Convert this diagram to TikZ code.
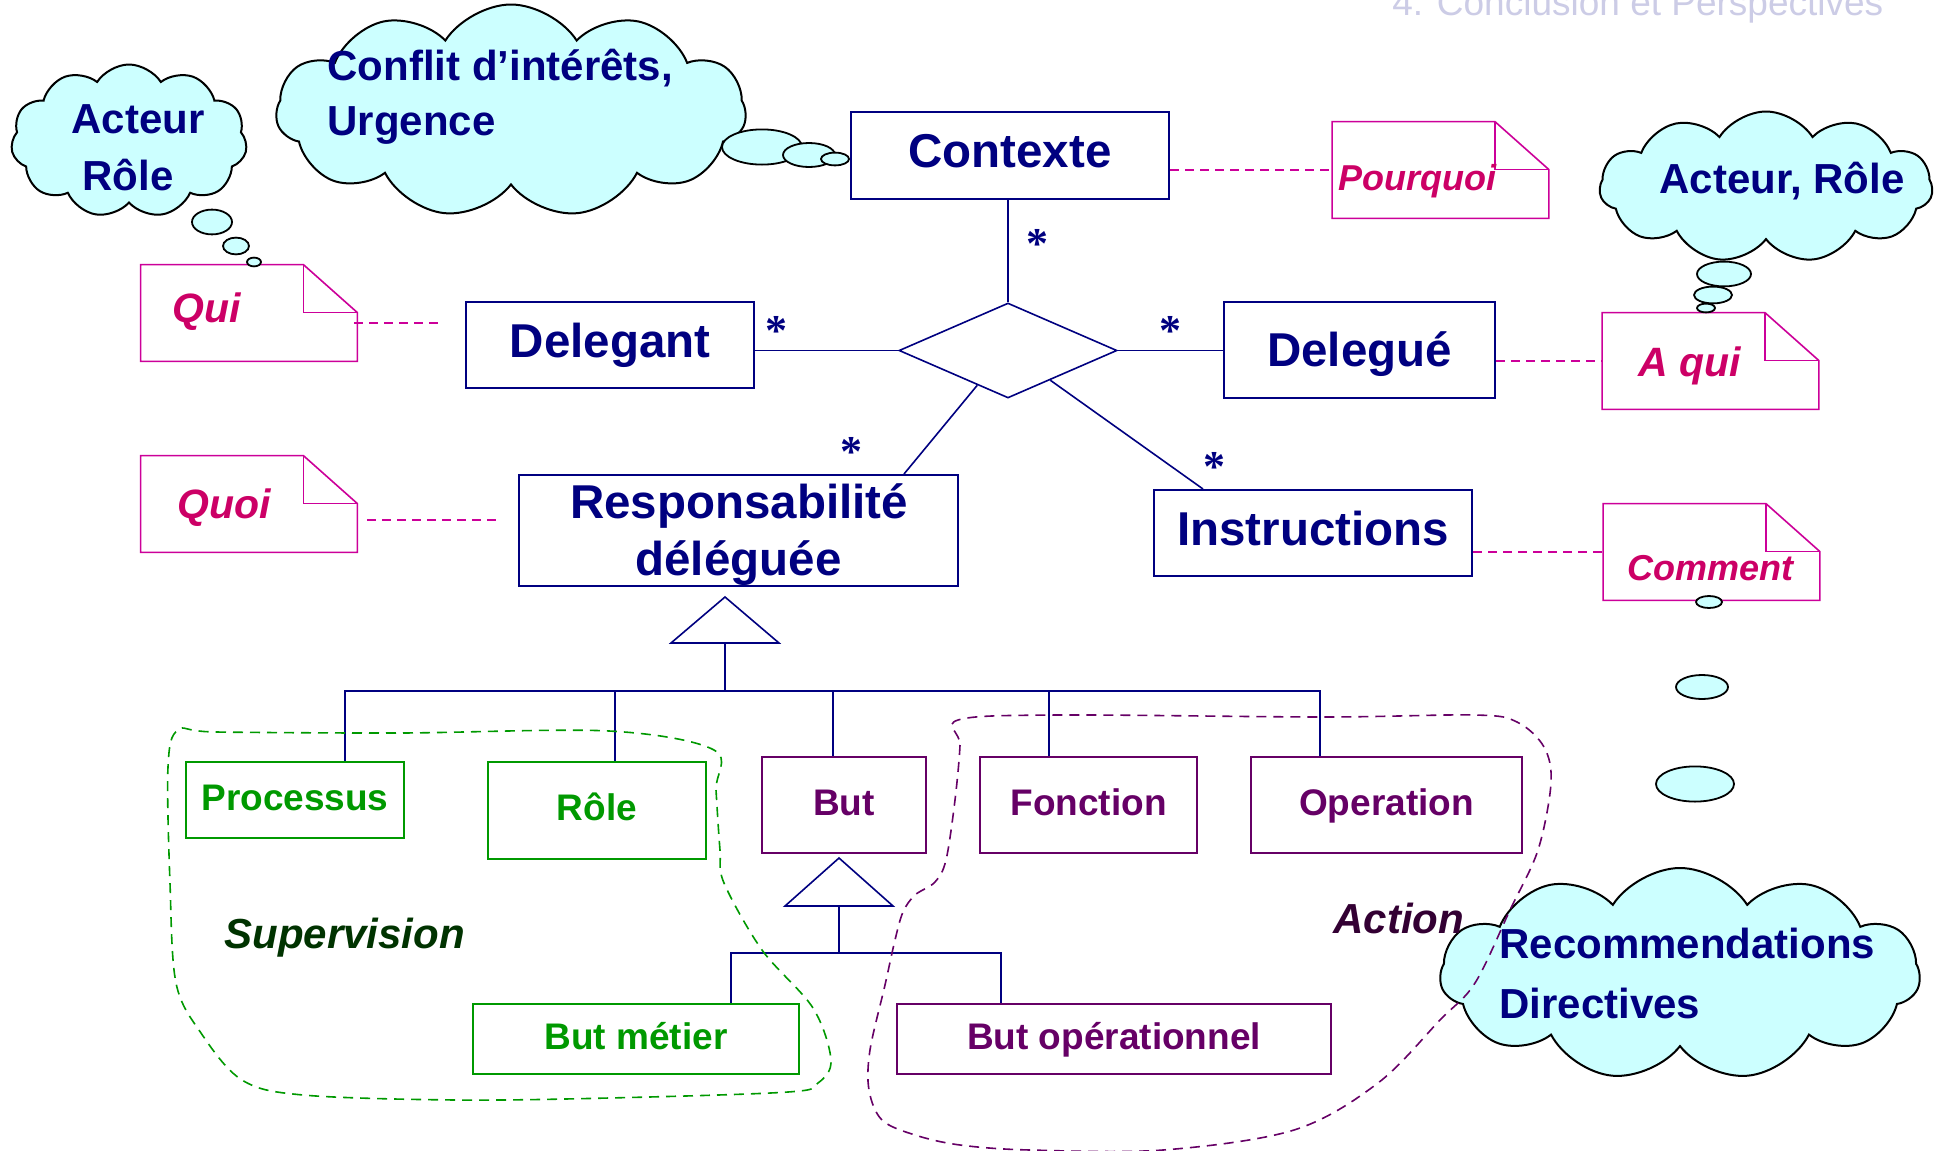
\documentclass[tikz,border=0pt]{standalone}
\usepackage{fontspec}
\setmainfont{Liberation Sans}
\newfontfamily\multfont{Liberation Serif}
\usetikzlibrary{shapes.geometric,shapes.symbols,calc}

\definecolor{umlnavy}{RGB}{0,0,128}
\definecolor{notemag}{RGB}{204,0,153}
\definecolor{notetxt}{RGB}{204,0,102}
\definecolor{supgreen}{RGB}{0,153,0}
\definecolor{actpurple}{RGB}{102,0,102}
\definecolor{supdark}{RGB}{0,51,0}
\definecolor{actdark}{RGB}{51,0,51}
\definecolor{thinkfill}{RGB}{204,255,255}
\definecolor{headgrey}{RGB}{204,204,230}

% outline of a UML note with its dog-eared corner
\newcommand\foldednote[1]{%
  \draw[noteline, fill=white] (#1.north west) -- ([xshift=-27pt]#1.north east)
    -- ([yshift=-24pt]#1.north east) -- (#1.south east) -- (#1.south west) -- cycle;
  \draw[noteline] ([xshift=-27pt]#1.north east) -- ([xshift=-27pt,yshift=-24pt]#1.north east)
    -- ([yshift=-24pt]#1.north east);}

\begin{document}
\begin{tikzpicture}[x=0.5pt,y=-0.5pt,
  classbox/.style={draw=umlnavy, line width=1pt, fill=white, text=umlnavy, inner sep=0pt,
    font=\fontsize{23.75pt}{28.5pt}\selectfont\bfseries},
  classline/.style={classbox, text height=18pt, text depth=6pt},
  titletext/.style={text=umlnavy, inner sep=0pt, anchor=base,
    font=\fontsize{23.75pt}{28.5pt}\selectfont\bfseries},
  subbox/.style={draw=#1, text=#1, line width=1pt, fill=white, inner sep=0pt,
    font=\fontsize{18.5pt}{22pt}\selectfont\bfseries, text height=14pt, text depth=3.6pt},
  assoc/.style={draw=umlnavy, line width=0.8pt},
  notebody/.style={minimum width=108pt, minimum height=48pt, inner sep=0pt},
  noteline/.style={draw=notemag, line width=0.8pt},
  notelink/.style={draw=notemag, line width=0.8pt, dash pattern=on 4.5pt off 3pt},
  notetext/.style={text=notetxt, inner sep=0pt, anchor=base west,
    font=\fontsize{#1}{#1}\selectfont\bfseries\itshape},
  thought/.style={cloud, cloud puffs=11, cloud puff arc=115, cloud ignores aspect,
    draw=black, line width=1pt, fill=thinkfill, inner sep=0pt},
  bubble/.style={draw=black, line width=0.9pt, fill=thinkfill},
  thoughttext/.style={text=umlnavy, inner sep=0pt, font=\fontsize{21pt}{21pt}\selectfont\bfseries},
  mult/.style={text=umlnavy, inner sep=0pt, anchor=north, font=\multfont\bfseries\fontsize{22pt}{22pt}\selectfont},
  grouptext/.style={text=#1, inner sep=0pt, anchor=base west,
    font=\fontsize{21pt}{21pt}\selectfont\bfseries\itshape},
  groupline/.style={draw=#1, line width=0.8pt, dash pattern=on 5pt off 3.5pt},
]
\useasboundingbox (0,0) rectangle (1939,1151);
\fill[white] (0,0) rectangle (1939,1151);

% section header
\node[anchor=base west, inner sep=0pt, text=headgrey,
  font=\fontsize{18.5pt}{20pt}\selectfont] (header) at (1392,15) {4. Conclusion et Perspectives};

% thought clouds
\node[thought, minimum width=118pt, minimum height=76.5pt] (cloudwho) at (129,141) {};
\node[thought, minimum width=235pt, minimum height=106.5pt] (cloudctx) at (511,111) {};
\node[thought, minimum width=166.5pt, minimum height=75.5pt] (cloudwhom) at (1766,187) {};
\node[thought, minimum width=240pt, minimum height=106pt] (cloudhow) at (1680,974) {};

\node[thoughttext, anchor=base] (whoA) at (138,133) {Acteur};
\node[thoughttext, anchor=base] (whoB) at (128,190) {Rôle};
\node[thoughttext, anchor=base west] (ctxA) at (327,80) {Conflit d’intérêts,};
\node[thoughttext, anchor=base west] (ctxB) at (327,135) {Urgence};
\node[thoughttext, anchor=base west] (whomA) at (1659,193) {Acteur, Rôle};
\node[thoughttext, anchor=base west] (howA) at (1499,958) {Recommendations};
\node[thoughttext, anchor=base west] (howB) at (1499,1018) {Directives};

% association
\node[classline, minimum width=159pt, minimum height=43.5pt] (contexte) at (1010,155.5) {Contexte};
\node[classline, minimum width=144pt, minimum height=43pt] (delegant) at (610,345) {Delegant};
\node[classline, text depth=1.5pt, minimum width=135.5pt, minimum height=48pt] (delegue) at (1359.5,350) {Delegué};
\node[classbox, minimum width=219.5pt, minimum height=55.5pt] (resp) at (738.5,530.5) {};
\node[titletext] (respA) at (739,518) {Responsabilité};
\node[titletext] (respB) at (738.5,575) {déléguée};
\node[classline, minimum width=159pt, minimum height=43pt] (instr) at (1313,533) {Instructions};
\node[diamond, draw=umlnavy, line width=0.8pt, fill=white, minimum width=109pt,
  minimum height=47.5pt, inner sep=0pt] (rel) at (1008,350.5) {};

\draw[assoc] (rel.north) -- (rel.north |- contexte.south);
\draw[assoc] (rel.west) -- (rel.west -| delegant.east);
\draw[assoc] (rel.east) -- (rel.east -| delegue.west);
\draw[assoc] ($(rel.west)!0.72!(rel.south)$) -- ([xshift=-27.5pt]resp.north east);
\draw[assoc] ($(rel.east)!0.615!(rel.south)$) -- ([xshift=25pt]instr.north west);

\node[mult] (m1) at (1037,229) {*};
\node[mult] (m2) at (776,316) {*};
\node[mult] (m3) at (1170,316) {*};
\node[mult] (m4) at (851,437) {*};
\node[mult] (m5) at (1214,452) {*};

% notes
\node[notebody] (pourquoi) at (1440.5,170) {};
\node[notebody] (qui) at (249,313) {};
\node[notebody] (quoi) at (249,504) {};
\node[notebody] (aqui) at (1710.5,361) {};
\node[notebody] (comment) at (1711.5,552) {};
\foldednote{pourquoi}
\foldednote{qui}
\foldednote{quoi}
\foldednote{aqui}
\foldednote{comment}
\node[notetext=18pt] (pourquoiT) at (1338,190) {Pourquoi};
\node[notetext=20.5pt] (quiT) at (172,322) {Qui};
\node[notetext=20.5pt] (quoiT) at (177,518) {Quoi};
\node[notetext=20.5pt] (aquiT) at (1638,376) {A qui};
\node[notetext=18pt] (commentT) at (1627,580) {Comment};

\draw[notelink] (contexte.east |- pourquoi.west) -- (pourquoi.west);
\draw[notelink, shorten <=-1.5pt, shorten >=11pt] ([yshift=-5pt]qui.east) -- ([yshift=-5pt]qui.east -| delegant.west);
\draw[notelink, shorten <=5pt, shorten >=8.5pt] ([yshift=-8pt]quoi.east) -- ([yshift=-8pt]quoi.east -| resp.west);
\draw[notelink] (delegue.east |- aqui.west) -- (aqui.west);
\draw[notelink] (instr.east |- comment.west) -- (comment.west);

% thought bubbles
\draw[bubble] (212,222) ellipse [x radius=10pt, y radius=6.2pt];
\draw[bubble] (236,246) ellipse [x radius=6.5pt, y radius=4.2pt];
\draw[bubble] (254,262) ellipse [x radius=3.5pt, y radius=2.2pt];
\draw[bubble] (762,147) ellipse [x radius=20pt, y radius=8.8pt];
\draw[bubble] (809,155) ellipse [x radius=13pt, y radius=6pt];
\draw[bubble] (835,159) ellipse [x radius=7pt, y radius=3.2pt];
\draw[bubble] (1724,274) ellipse [x radius=13.5pt, y radius=6.2pt];
\draw[bubble] (1713,295) ellipse [x radius=9.5pt, y radius=4.2pt];
\draw[bubble] (1706,308) ellipse [x radius=4.5pt, y radius=2.2pt];
\draw[bubble] (1709,602) ellipse [x radius=6.5pt, y radius=3pt];
\draw[bubble] (1702,687) ellipse [x radius=13pt, y radius=6pt];
\draw[bubble] (1695,784) ellipse [x radius=19.5pt, y radius=8.8pt];

% specialisations of the delegated responsibility
\node[subbox=supgreen, minimum width=109pt, minimum height=38pt] (proc) at (295,800) {Processus};
\node[subbox=supgreen, minimum width=109pt, minimum height=48.5pt] (role) at (597,810.5) {Rôle};
\node[subbox=actpurple, minimum width=82pt, minimum height=48pt] (but) at (844,805) {But};
\node[subbox=actpurple, minimum width=108.5pt, minimum height=48pt] (fonction) at (1088.5,805) {Fonction};
\node[subbox=actpurple, minimum width=135.5pt, minimum height=48pt] (operation) at (1386.5,805) {Operation};
\node[subbox=supgreen, minimum width=163pt, minimum height=35pt] (butmetier) at (636,1039) {But métier};
\node[subbox=actpurple, minimum width=217pt, minimum height=35pt] (butop) at (1114,1039) {But opérationnel};

\coordinate (g1) at (725,643);
\coordinate (b1) at (725,691);
\draw[assoc, fill=white] (g1) -- ++(54,0) -- ++(-54,-46) -- ++(-54,46) -- cycle;
\draw[assoc] (g1) -- (b1);
\draw[assoc] ([xshift=25pt]proc.north) |- (b1);
\draw[assoc] ([xshift=9pt]role.north) |- (b1);
\draw[assoc] ([xshift=-5.5pt]but.north) |- (b1);
\draw[assoc] ([xshift=-19.75pt]fonction.north) |- (b1);
\draw[assoc] ([xshift=-33.25pt]operation.north) |- (b1);

\coordinate (g2) at (839,906);
\coordinate (b2) at (839,953);
\draw[assoc, fill=white] (g2) -- ++(54,0) -- ++(-54,-48) -- ++(-54,48) -- cycle;
\draw[assoc] (g2) -- (b2);
\draw[assoc] ([xshift=47.5pt]butmetier.north) |- (b2);
\draw[assoc] ([xshift=-56.5pt]butop.north) |- (b2);

% groupings
\draw[groupline=supgreen] plot[smooth cycle, tension=0.55] coordinates {
  (178,730) (216,732) (400,733) (609,731) (714,750) (716,790) (720,850) (724,883)
  (762,950) (813,1008) (831,1060) (818,1083) (788,1092) (609,1098) (456,1100)
  (303,1095) (242,1080) (201,1033) (176,983) (170,883) (168,767)};
\draw[groupline=actpurple] plot[smooth cycle, tension=0.55] coordinates {
  (958,720) (960,745) (955,800) (946,860) (935,882) (915,895) (903,912) (895,940)
  (885,985) (870,1050) (869,1090) (882,1120) (915,1135) (960,1145) (1030,1150)
  (1163,1150) (1294,1130) (1378,1083) (1440,1020) (1475,983) (1510,910) (1538,850)
  (1551,783) (1544,747) (1517,722) (1475,715) (1322,717) (1058,715)};
\node[grouptext=supdark] (supervision) at (224,948) {Supervision};
\node[grouptext=actdark] (action) at (1333,933) {Action};
\end{tikzpicture}
\end{document}
